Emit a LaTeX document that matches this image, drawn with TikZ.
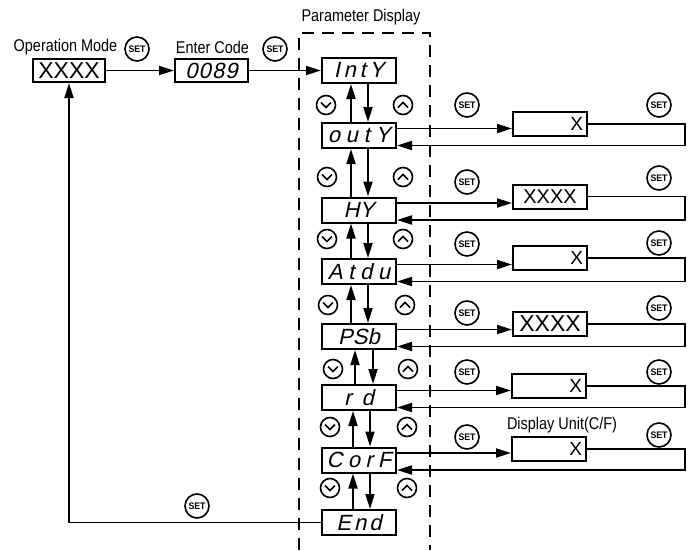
\documentclass[tikz,border=0pt]{standalone}
\usepackage{fontspec}
\setmainfont{Liberation Sans}
\newfontfamily\labfont{Liberation Sans}[FakeStretch=0.85]
\newfontfamily\setfont{Liberation Sans}[FakeStretch=0.92]
\newfontfamily\segfont{Liberation Sans}[FakeSlant=0.22]
\usetikzlibrary{arrows.meta,calc}
\begin{document}
\begin{tikzpicture}[x=1pt,y=-1pt,
  box/.style={draw,line width=2pt,minimum width=74pt,minimum height=25pt,inner sep=0pt},
  vbox/.style={box,minimum height=24pt},
  xbox/.style={text width=66pt,align=right,font=\fontsize{19}{19}\selectfont},
  lbl/.style={font=\labfont\fontsize{17}{17}\selectfont,inner sep=0pt},
  setc/.style={draw,circle,line width=1.6pt,minimum size=24pt,inner sep=0pt,font=\setfont\bfseries\fontsize{9.5}{9.5}\selectfont},
  nav/.style={draw,circle,line width=1.6pt,minimum size=19pt,inner sep=0pt},
  chev/.style={line width=1.6pt},
  conn/.style={line width=1.9pt},
  arr/.style={conn,-{Triangle[length=15pt,width=9pt]}},
  seg/.style={font={\segfont\fontsize{22}{24}\selectfont\addfontfeature{LetterSpace=#1}}},
  big/.style={font=\fontsize{23}{23}\selectfont},
  frame/.style={line width=1.9pt,dash pattern=on 12pt off 8pt},
]
\useasboundingbox (0,0) rectangle (689,550);

% dashed frame
\draw[frame] (299,550) -- (299,33) -- (430,33) -- (430,550);
\node[lbl] (pdlab) at (361,17) {Parameter Display};

% top row
\node[lbl] (oplab) at (65.5,47) {Operation Mode};
\node[setc] (sop) at (137,49) {SET};
\node[lbl] (eclab) at (212.5,47) {Enter Code};
\node[setc] (sec) at (275,49) {SET};
\node[box,minimum width=72pt,minimum height=23pt,big] (opbox) at (69,70.5) {XXXX};
\node[box,minimum width=73pt,minimum height=23pt,seg=5] (codebox) at (211.5,70.5) {0089};

% parameter boxes
\node[box,seg=17] (p1) at (359,70.5) {IntY};
\node[box,seg=26] (p2) at (359,135.5) {outY};
\node[box,seg=0] (p3) at (359,210) {HY};
\node[box,seg=26] (p4) at (359,271.5) {Atdu};
\node[box,seg=0] (p5) at (359,336.5) {PSb};
\node[box,seg=47] (p6) at (359,397.5) {rd};
\node[box,seg=24] (p7) at (359,460) {CorF};
\node[box,seg=14] (p8) at (359,522.5) {End};

% value boxes
\node[vbox,xbox] (v2) at (550,124) {X};
\node[vbox,font=\fontsize{20}{20}\selectfont] (v3) at (550,196.5) {XXXX};
\node[vbox,xbox] (v4) at (550,258) {X};
\node[vbox,big] (v5) at (550,324) {XXXX};
\node[vbox,xbox] (v6) at (549,386) {X};
\node[vbox,xbox] (v7) at (549,449) {X};
\node[lbl] (dulab) at (562,425) {Display Unit(C/F)};

\coordinate (rx) at (685,0);

% top connectors
\draw[arr] (opbox) -- (codebox);
\draw[arr] (codebox) -- (p1);

% right side loops
\foreach \k/\sl/\sr in {2/105/105, 3/182/178, 4/244/243, 5/313/308, 6/372/372, 7/437/435} {
  \node[setc] (sl\k) at (467,\sl) {SET};
  \node[setc] (sr\k) at (659,\sr) {SET};
  \coordinate (o\k) at ($(p\k.east)+(0,-7)$);
  \coordinate (r\k) at ($(p\k.east)+(0,10)$);
  \draw[arr] (o\k) -- (o\k -| v\k.west);
  \draw[arr] (v\k.east) -- (v\k.east -| rx) -- (r\k -| rx) -- (r\k);
}

% navigation between parameters
\foreach \a/\b/\u/\d/\y/\l/\r in {1/2/351/368/105/326/403, 2/3/351/368/177/327/403, 3/4/351/368/239/327/403, 4/5/351/368/305/328/405, 5/6/355/373/369/333/408, 6/7/353/370/427/330/407, 7/8/353/370/488/330/407} {
  \coordinate (ux\a) at (\u,0);
  \coordinate (dx\a) at (\d,0);
  \draw[arr] (p\b.north -| ux\a) -- (p\a.south -| ux\a);
  \draw[arr] (p\a.south -| dx\a) -- (p\b.north -| dx\a);
  \node[nav] (nd\a) at (\l,\y) {};
  \draw[chev] ($(nd\a.center)+(-5,-2.5)$) -- ($(nd\a.center)+(0,2.5)$) -- ($(nd\a.center)+(5,-2.5)$);
  \node[nav] (nu\a) at (\r,\y) {};
  \draw[chev] ($(nu\a.center)+(-5,2.5)$) -- ($(nu\a.center)+(0,-2.5)$) -- ($(nu\a.center)+(5,2.5)$);
}

% return to operation mode
\node[setc] (sbot) at (197,506) {SET};
\draw[arr] (p8.west) -- (p8.west -| opbox.south) -- (opbox.south);
\end{tikzpicture}
\end{document}
